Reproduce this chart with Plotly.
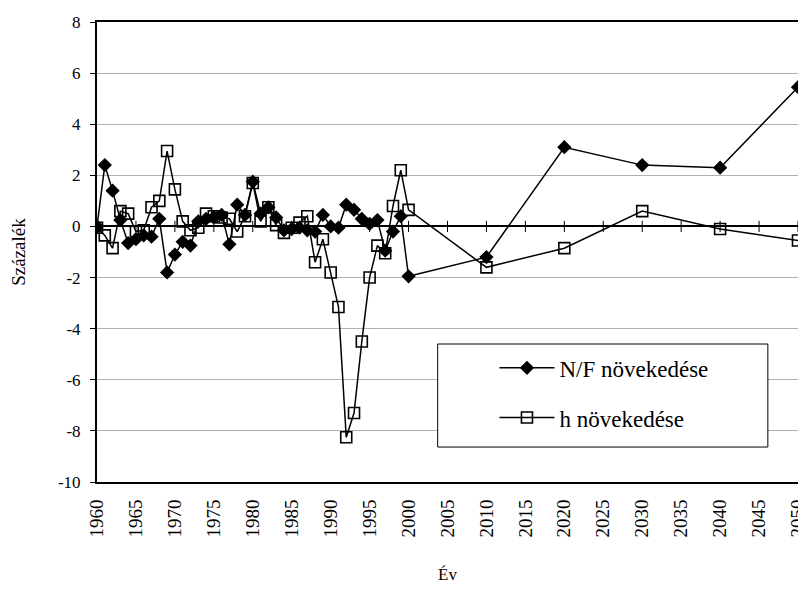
import plotly.graph_objects as go

# years: yearly 1960-2000, then decades to 2050
years = list(range(1960, 2001)) + [2010, 2020, 2030, 2040, 2050]

# N/F növekedése
nf_growth = [
    0.0, 2.4, 1.4, 0.25, -0.65, -0.5, -0.35, -0.4, 0.3, -1.8,
    -1.1, -0.6, -0.75, 0.2, 0.3, 0.35, 0.45, -0.7, 0.85, 0.45,
    1.75, 0.5, 0.75, 0.35, -0.15, -0.1, -0.05, -0.15, -0.2, 0.45,
    0.0, -0.05, 0.85, 0.65, 0.3, 0.1, 0.25, -0.95, -0.2, 0.4,
    -1.95, -1.2, 3.1, 2.4, 2.3, 5.45,
]

# h növekedése
h_growth = [
    -0.05, -0.35, -0.85, 0.6, 0.5, -0.2, -0.15, 0.75, 1.0, 2.95,
    1.45, 0.2, -0.15, -0.05, 0.5, 0.4, 0.35, 0.3, -0.2, 0.4,
    1.7, 0.2, 0.75, 0.05, -0.25, -0.05, 0.15, 0.4, -1.4, -0.5,
    -1.8, -3.15, -8.25, -7.3, -4.5, -2.0, -0.75, -1.05, 0.8, 2.2,
    0.65, -1.6, -0.85, 0.6, -0.1, -0.55,
]

x_ticks = list(range(1960, 2051, 5))
y_ticks = list(range(-10, 9, 2))
y_labels = [str(v) for v in y_ticks]  # plain hyphen minus, like Excel

FONT = "Times New Roman, Liberation Serif, DejaVu Serif, serif"

fig = go.Figure()

fig.add_trace(go.Scatter(
    x=years, y=nf_growth, name="N/F növekedése", mode="lines+markers",
    line=dict(color="black", width=1.5),
    marker=dict(symbol="diamond", size=11, color="black"),
    legend="legend",
))
fig.add_trace(go.Scatter(
    x=years, y=h_growth, name="h növekedése", mode="lines+markers",
    line=dict(color="black", width=1.5),
    marker=dict(symbol="square-open", size=11, color="black",
                line=dict(width=1.6)),
    legend="legend2",
))
# tick marks on the zero line (category axis crosses at 0)
fig.add_trace(go.Scatter(
    x=x_ticks, y=[0] * len(x_ticks), mode="markers", showlegend=False,
    hoverinfo="skip",
    marker=dict(symbol="line-ns", size=8, line=dict(color="black", width=1)),
))

# legend frame
fig.add_shape(type="rect", xref="paper", yref="paper",
              x0=0.486, x1=0.957, y0=0.076, y1=0.30,
              line=dict(color="black", width=1), fillcolor="white",
              layer="above")

fig.update_layout(
    width=806, height=589,
    margin=dict(l=89, r=16, t=14, b=115),
    paper_bgcolor="white", plot_bgcolor="white",
    font=dict(family=FONT, color="black", size=17),
    legend=dict(x=0.567, y=0.248, xanchor="left", yanchor="middle",
                bgcolor="rgba(0,0,0,0)", itemwidth=55,
                font=dict(size=23, family=FONT, color="black")),
    legend2=dict(x=0.567, y=0.14, xanchor="left", yanchor="middle",
                 bgcolor="rgba(0,0,0,0)", itemwidth=55,
                 font=dict(size=23, family=FONT, color="black")),
)

fig.update_xaxes(
    range=[1960, 2050], tickvals=x_ticks, tickangle=-90,
    tickfont=dict(size=19, family=FONT, color="black"),
    ticklabelstandoff=8,
    showgrid=False, zeroline=False, automargin=False,
    showline=True, mirror=True, linecolor="black", linewidth=2,
    ticks="", title=dict(text="Év", font=dict(size=17, family=FONT, color="black"),
                         standoff=32),
)
fig.update_yaxes(
    range=[-10, 8], tickvals=y_ticks, ticktext=y_labels, automargin=False,
    tickfont=dict(size=17, family=FONT, color="black"),
    ticklabelstandoff=6,
    showgrid=True, gridcolor="#b0b0b0", gridwidth=1,
    zeroline=True, zerolinecolor="black", zerolinewidth=1.5,
    showline=True, mirror=True, linecolor="black", linewidth=2,
    ticks="outside", ticklen=5, tickcolor="black",
    title=dict(text="Százalék", font=dict(size=19, family=FONT, color="black"),
               standoff=30),
)

fig.write_html("out.html")
